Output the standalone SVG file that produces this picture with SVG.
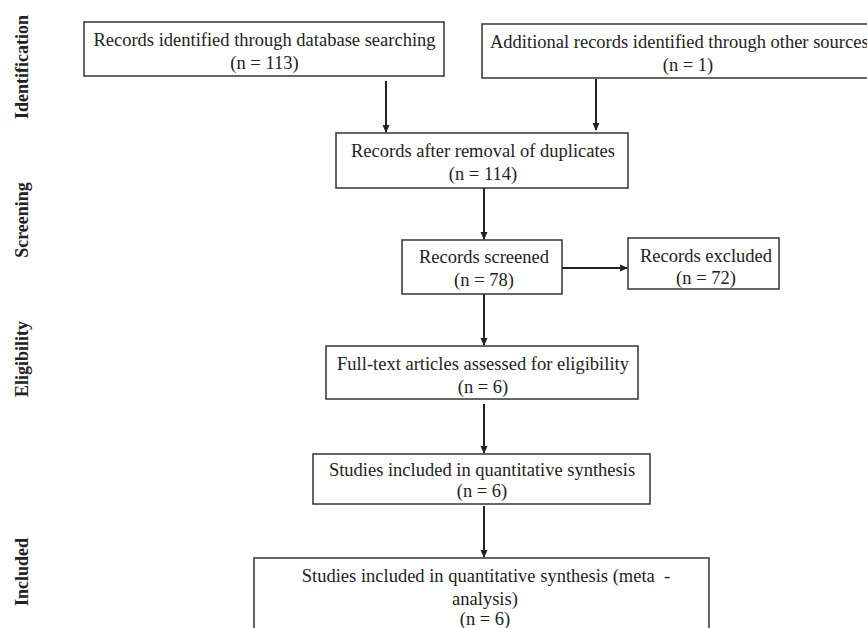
<svg xmlns="http://www.w3.org/2000/svg" width="867" height="628" viewBox="0 0 867 628">
<style>
.box{fill:#fff;stroke:#333;stroke-width:1.5}
.t{font-family:"Liberation Serif","Times New Roman",serif;font-size:18.5px;fill:#222;text-anchor:middle}
.lab{font-family:"Liberation Serif","Times New Roman",serif;font-size:18px;font-weight:bold;fill:#222;text-anchor:middle}
.c{stroke:#222;stroke-width:2;fill:none;marker-end:url(#ah)}
</style>
<defs>
<marker id="ah" markerWidth="8" markerHeight="8" refX="7" refY="4" orient="auto" markerUnits="userSpaceOnUse">
<path d="M0,0.5 L8,4 L0,7.5 Z" fill="#222"/>
</marker>
</defs>
<rect width="867" height="628" fill="#fff"/>
<g id="labels">
<text class="lab" transform="translate(28,67) rotate(-90)">Identification</text>
<text class="lab" transform="translate(28,220) rotate(-90)">Screening</text>
<text class="lab" transform="translate(28,359) rotate(-90)">Eligibility</text>
<text class="lab" transform="translate(28,572) rotate(-90)">Included</text>
</g>
<g id="connectors">
<line class="c" x1="386" y1="81" x2="386" y2="132"/>
<line class="c" x1="596" y1="79" x2="596" y2="130"/>
<line class="c" x1="484" y1="188" x2="484" y2="239"/>
<line class="c" x1="562" y1="268" x2="627" y2="268"/>
<line class="c" x1="484" y1="294" x2="484" y2="345"/>
<line class="c" x1="484" y1="404" x2="484" y2="453"/>
<line class="c" x1="484" y1="506" x2="484" y2="557"/>
</g>
<g id="n1">
<rect class="box" x="84" y="22" width="360" height="54"/>
<text class="t" x="264.5" y="46">Records identified through database searching</text>
<text class="t" x="264.5" y="69">(n = 113)</text>
</g>
<g id="n2">
<rect class="box" x="482" y="24" width="400" height="54"/>
<text class="t" x="490" y="48" style="text-anchor:start">Additional records identified through other sources</text>
<text class="t" x="688" y="71">(n = 1)</text>
</g>
<g id="n3">
<rect class="box" x="336" y="133" width="292" height="55"/>
<text class="t" x="483" y="157">Records after removal of duplicates</text>
<text class="t" x="483" y="180">(n = 114)</text>
</g>
<g id="n4">
<rect class="box" x="402" y="240" width="160" height="54"/>
<text class="t" x="484" y="263">Records screened</text>
<text class="t" x="484" y="286">(n = 78)</text>
</g>
<g id="n5">
<rect class="box" x="628" y="238" width="151" height="51"/>
<text class="t" x="706" y="262">Records excluded</text>
<text class="t" x="706" y="284">(n = 72)</text>
</g>
<g id="n6">
<rect class="box" x="326" y="346" width="312" height="53"/>
<text class="t" x="483" y="370">Full-text articles assessed for eligibility</text>
<text class="t" x="483" y="393">(n = 6)</text>
</g>
<g id="n7">
<rect class="box" x="313" y="454" width="337" height="50"/>
<text class="t" x="482" y="476">Studies included in quantitative synthesis</text>
<text class="t" x="482" y="497">(n = 6)</text>
</g>
<g id="n8">
<rect class="box" x="254" y="558" width="455" height="90"/>
<text class="t" x="486" y="582">Studies included in quantitative synthesis (meta&#160; -</text>
<text class="t" x="485" y="605">analysis)</text>
<text class="t" x="485" y="625">(n = 6)</text>
</g>
</svg>
